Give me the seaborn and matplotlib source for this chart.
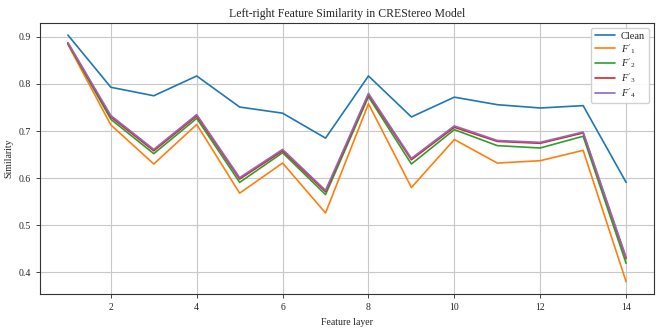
import numpy as np
import pandas as pd
import matplotlib
matplotlib.use("Agg")
import matplotlib.pyplot as plt
import seaborn as sns

layers = list(range(1, 15))
clean = [0.904, 0.793, 0.775, 0.817, 0.751, 0.738, 0.685, 0.817, 0.730, 0.772, 0.756, 0.749, 0.754, 0.591]
f1 = [0.884, 0.713, 0.630, 0.714, 0.568, 0.632, 0.526, 0.758, 0.580, 0.682, 0.632, 0.637, 0.659, 0.380]
f2 = [0.886, 0.725, 0.652, 0.727, 0.591, 0.654, 0.565, 0.773, 0.630, 0.703, 0.669, 0.664, 0.689, 0.419]
f3 = [0.887, 0.730, 0.658, 0.732, 0.598, 0.658, 0.571, 0.777, 0.639, 0.708, 0.678, 0.674, 0.696, 0.429]
f4 = [0.888, 0.733, 0.661, 0.735, 0.601, 0.661, 0.574, 0.780, 0.642, 0.711, 0.680, 0.676, 0.698, 0.432]
labels = ["Clean", "$F'_1$", "$F'_2$", "$F'_3$", "$F'_4$"]

sns.set_style("ticks")
plt.rcParams["font.family"] = ["Liberation Serif", "DejaVu Serif"]
plt.rcParams["mathtext.fontset"] = "custom"
plt.rcParams["mathtext.rm"] = "Liberation Serif"
plt.rcParams["mathtext.it"] = "Liberation Serif:italic"

rows = []
for lab, vals in zip(labels, [clean, f1, f2, f3, f4]):
    for x, v in zip(layers, vals):
        rows.append({"layer": x, "sim": v, "series": lab})
df = pd.DataFrame(rows)

fig, ax = plt.subplots(figsize=(6.64, 3.32), dpi=100)
sns.lineplot(data=df, x="layer", y="sim", hue="series", palette="tab10",
             linewidth=1.2, ax=ax)
ax.grid(True, color="#c8c8c8", linewidth=0.8)
ax.set_axisbelow(True)
ax.set_title("Left-right Feature Similarity in CREStereo Model", fontsize=8.5, pad=4)
ax.set_xlabel("Feature layer", fontsize=7)
ax.set_ylabel("Similarity", fontsize=7)
ax.tick_params(labelsize=7, length=3, width=0.6)
ax.set_xticks([2, 4, 6, 8, 10, 12, 14])
for s in ax.spines.values():
    s.set_linewidth(0.8)
    s.set_color("#333333")
ax.legend(title=None, loc="upper right", fontsize=7.5, framealpha=0.9,
          edgecolor="#cccccc", handlelength=1.9, labelspacing=0.08,
          borderaxespad=0.5, borderpad=0.35, handletextpad=0.6)
plt.subplots_adjust(left=40/664, right=654/664, bottom=1-294/332, top=1-22.7/332)
plt.savefig("out.png", dpi=100)
